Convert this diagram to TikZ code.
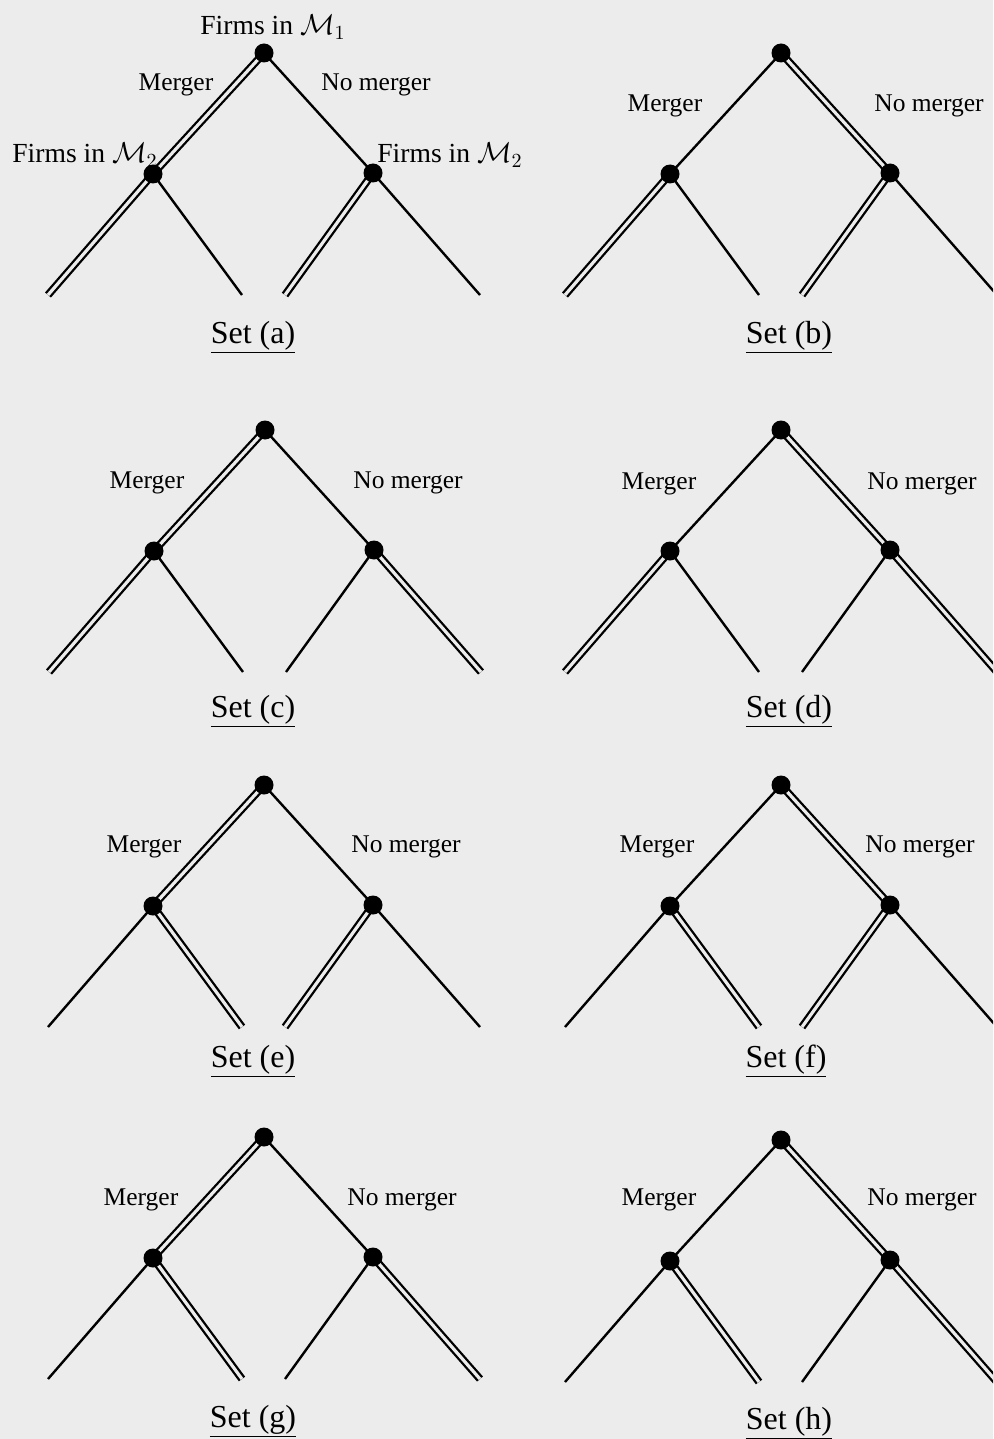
\documentclass[tikz,border=0pt]{standalone}
\usepackage{fontspec}
\setmainfont{Liberation Serif}
\definecolor{bgc}{RGB}{236,236,236}
\tikzset{
  dot/.style={circle,fill=black,inner sep=0pt,minimum size=9.5pt},
  sgl/.style={line width=1.2pt},
  dbl/.style={line width=1.15pt,double=bgc,double distance=1.6pt},
  lbl/.style={inner sep=0pt,anchor=base,font=\fontsize{12.75}{15}\selectfont},
  plbl/.style={inner sep=0pt,anchor=base,font=\fontsize{13.8}{16}\selectfont},
  setlbl/.style={inner sep=0pt,anchor=base,font=\fontsize{16}{19}\selectfont}
}
% #1 name, #2 rx, #3 ry, #4..#9 edge styles: root-L, root-R, L-LL, L-LR, R-RL, R-RR
\newcommand\gtree[9]{%
  \coordinate (#1r) at (#2,#3);
  \coordinate (#1L) at (#2-111,#3+121);
  \coordinate (#1R) at (#2+109,#3+120);
  \coordinate (#1LL) at (#2-216,#3+242);
  \coordinate (#1LR) at (#2-22,#3+242);
  \coordinate (#1RL) at (#2+21,#3+242);
  \coordinate (#1RR) at (#2+216,#3+242);
  \draw[#4] (#1r) -- (#1L);
  \draw[#5] (#1r) -- (#1R);
  \draw[#6] (#1L) -- (#1LL);
  \draw[#7] (#1L) -- (#1LR);
  \draw[#8] (#1R) -- (#1RL);
  \draw[#9] (#1R) -- (#1RR);
  \node[dot] (#1rd) at (#1r) {};
  \node[dot] (#1Ld) at (#1L) {};
  \node[dot] (#1Rd) at (#1R) {};
}
\begin{document}
\begin{tikzpicture}[x=0.5pt,y=-0.5pt]
\fill[bgc] (0,0) rectangle (993,1439);
\useasboundingbox (0,0) rectangle (993,1439);
\clip (0,0) rectangle (993,1439);

\gtree{a}{264}{53}{dbl}{sgl}{dbl}{sgl}{dbl}{sgl}
\gtree{b}{781}{53}{sgl}{dbl}{dbl}{sgl}{dbl}{sgl}
\gtree{c}{265}{430}{dbl}{sgl}{dbl}{sgl}{sgl}{dbl}
\gtree{d}{781}{430}{sgl}{dbl}{dbl}{sgl}{sgl}{dbl}
\gtree{e}{264}{785}{dbl}{sgl}{sgl}{dbl}{dbl}{sgl}
\gtree{f}{781}{785}{sgl}{dbl}{sgl}{dbl}{dbl}{sgl}
\gtree{g}{264}{1137}{dbl}{sgl}{sgl}{dbl}{sgl}{dbl}
\gtree{h}{781}{1140}{sgl}{dbl}{sgl}{dbl}{sgl}{dbl}

% player labels
\node[plbl] (m1) at (273,35) {Firms in $\mathcal{M}_1$};
\node[plbl] (m2l) at (85,163) {Firms in $\mathcal{M}_2$};
\node[plbl] (m2r) at (450,163) {Firms in $\mathcal{M}_2$};

% branch labels
\node[lbl] (amg) at (176,91) {Merger};
\node[lbl] (anm) at (376,91) {No merger};
\node[lbl] (bmg) at (665,112) {Merger};
\node[lbl] (bnm) at (929,112) {No merger};
\node[lbl] (cmg) at (147,488) {Merger};
\node[lbl] (cnm) at (408,488) {No merger};
\node[lbl] (dmg) at (659,489) {Merger};
\node[lbl] (dnm) at (922,489) {No merger};
\node[lbl] (emg) at (144,852) {Merger};
\node[lbl] (enm) at (406,852) {No merger};
\node[lbl] (fmg) at (657,852) {Merger};
\node[lbl] (fnm) at (920,852) {No merger};
\node[lbl] (gmg) at (141,1205) {Merger};
\node[lbl] (gnm) at (402,1205) {No merger};
\node[lbl] (hmg) at (659,1205) {Merger};
\node[lbl] (hnm) at (922,1205) {No merger};

% set labels
\node[setlbl] (sa) at (253,343) {\underline{Set (a)}};
\node[setlbl] (sb) at (789,343) {\underline{Set (b)}};
\node[setlbl] (sc) at (253,717) {\underline{Set (c)}};
\node[setlbl] (sd) at (789,717) {\underline{Set (d)}};
\node[setlbl] (se) at (253,1067) {\underline{Set (e)}};
\node[setlbl] (sf) at (786,1067) {\underline{Set (f)}};
\node[setlbl] (sg) at (253,1427) {\underline{Set (g)}};
\node[setlbl] (sh) at (789,1429) {\underline{Set (h)}};
\end{tikzpicture}
\end{document}
